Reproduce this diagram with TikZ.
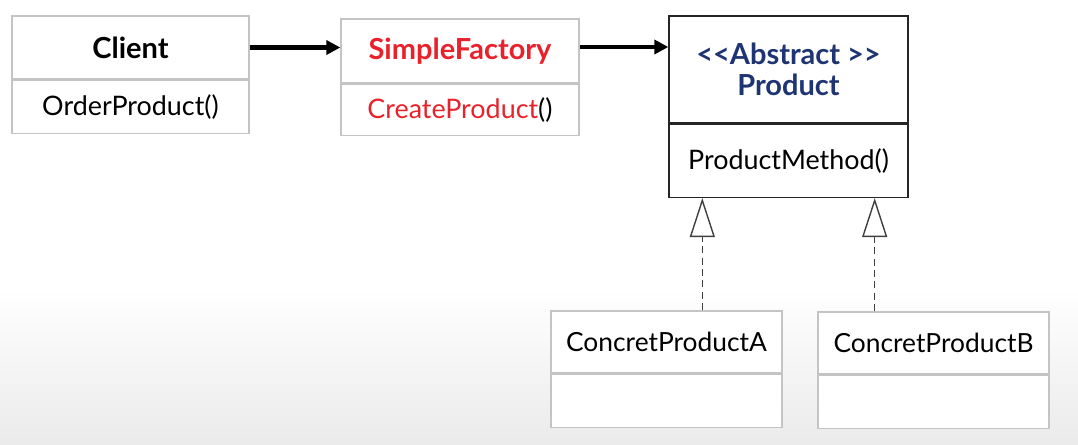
\documentclass[tikz,border=0pt]{standalone}
\usepackage{fontspec}
\setmainfont{Lato}
\usepackage{tikz}
\usetikzlibrary{arrows.meta,positioning,calc}
\usepackage{xcolor}
\definecolor{facred}{HTML}{E8212B}
\definecolor{absblue}{HTML}{1E3473}
\definecolor{boxgray}{HTML}{C4C4C4}

\begin{document}
\begin{tikzpicture}[
    x=0.02cm, y=-0.02cm,
    head/.style={rectangle, draw=boxgray, line width=0.8pt, fill=white, inner sep=0pt, minimum width=4.74cm, minimum height=1.26cm, font=\fontsize{16.5}{19}\selectfont\bfseries, align=center},
    body/.style={rectangle, draw=boxgray, line width=0.8pt, fill=white, inner sep=0pt, minimum width=4.74cm, minimum height=1.06cm, font=\fontsize{15.3}{18}\selectfont},
    call/.style={-{Triangle[length=0.28cm, width=0.28cm]}, line width=2.3pt},
    realize/.style={-{Triangle[open, length=0.78cm, width=0.5cm, fill=white, line width=0.8pt]}, dash pattern=on 4pt off 2.5pt, draw=black!75, line width=0.8pt},
    node distance=0pt
]
    % background
    \fill[white] (0,0) rectangle (1078,444);
    \shade[top color=white, bottom color=gray!16] (0,290) rectangle (1078,444);
    \useasboundingbox (0,0) rectangle (1078,444);

    % Client
    \node[head] (clienthead) at (130.5,47.5) {Client};
    \node[body, below=of clienthead] (clientbody) {OrderProduct()};

    % SimpleFactory
    \node[head, text=facred, minimum width=4.76cm, minimum height=1.28cm] (factoryhead) at (460,51) {SimpleFactory};
    \node[body, minimum width=4.76cm, minimum height=1.02cm, below=of factoryhead] (factorybody) {\textcolor{facred}{CreateProduct}()};

    % Abstract product
    \node[head, draw=black!85, text=absblue, minimum width=4.78cm, minimum height=2.14cm] (producthead) at (788.5,69.5) {<{}<Abstract >{}>\\[-1pt]Product};
    \node[body, draw=black!85, minimum width=4.78cm, minimum height=1.46cm, below=of producthead] (productbody) {ProductMethod()};

    % Concrete products
    \node[head, font=\fontsize{15}{18}\selectfont, minimum width=4.62cm, minimum height=1.24cm] (ahead) at (666.5,342) {ConcretProductA};
    \node[body, minimum width=4.62cm, below=of ahead] (abody) {};
    \node[head, font=\fontsize{15}{18}\selectfont, minimum width=4.62cm, minimum height=1.24cm] (bhead) at (933.5,343) {ConcretProductB};
    \node[body, minimum width=4.62cm, below=of bhead] (bbody) {};

    % calls
    \draw[call] (clienthead.east) -- (clienthead.east -| factoryhead.west);
    \draw[call] ([yshift=0.08cm]factoryhead.east) -- ([yshift=0.08cm]factoryhead.east -| producthead.west);

    % realization
    \coordinate (tipA) at ([xshift=0.68cm]productbody.south west);
    \coordinate (tipB) at ([xshift=-0.68cm]productbody.south east);
    \draw[realize] (ahead.north -| tipA) -- (tipA);
    \draw[realize] (bhead.north -| tipB) -- (tipB);
\end{tikzpicture}
\end{document}
